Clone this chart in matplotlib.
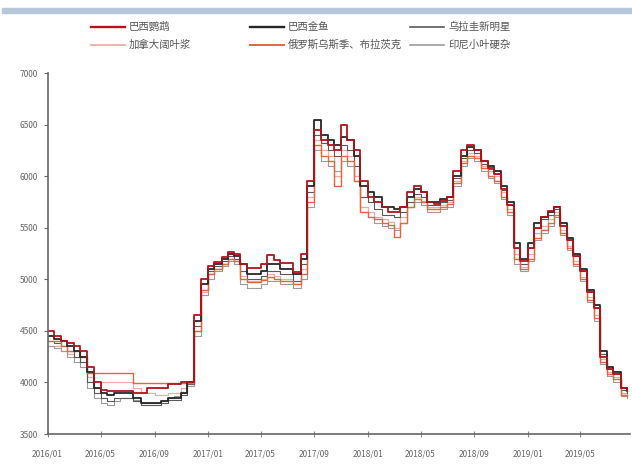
import numpy as np
import pandas as pd
import matplotlib
matplotlib.use("Agg")
import matplotlib.pyplot as plt
import matplotlib.dates as mdates
from matplotlib.lines import Line2D
from matplotlib.patches import Rectangle

plt.rcParams['font.family'] = ['Noto Sans CJK SC', 'DejaVu Sans']

# semi-monthly readings, 2016/01 .. 2019/08
dates = pd.date_range('2016-01-01', periods=88, freq='SMS')

names = ['巴西鹦鹉', '巴西金鱼', '乌拉圭新明星', '加拿大阔叶浆', '俄罗斯乌斯季、布拉茨克', '印尼小叶硬杂']

parrot = [4500, 4450, 4400, 4380, 4350, 4300, 4150, 4000, 3930, 3920, 3920, 3920, 3920, 3900, 3900, 3950,
          3950, 3950, 3980, 3980, 4000, 4000, 4650, 5000, 5130, 5170, 5220, 5260, 5250, 5150, 5110, 5110,
          5150, 5240, 5190, 5160, 5160, 5070, 5250, 5950, 6450, 6350, 6300, 6250, 6500, 6350, 6250, 5950,
          5800, 5750, 5700, 5650, 5650, 5700, 5850, 5900, 5850, 5750, 5730, 5760, 5800, 6050, 6250, 6300,
          6250, 6150, 6080, 6020, 5880, 5720, 5300, 5180, 5300, 5500, 5600, 5660, 5700, 5520, 5380, 5230,
          5080, 4880, 4720, 4250, 4130, 4080, 3950, 3920]

goldfish = [4450, 4420, 4400, 4350, 4300, 4250, 4100, 3950, 3900, 3880, 3900, 3900, 3900, 3850, 3800, 3800,
            3800, 3820, 3850, 3850, 3900, 4000, 4600, 4950, 5100, 5150, 5200, 5250, 5230, 5150, 5050, 5050,
            5080, 5150, 5150, 5100, 5100, 5050, 5200, 5900, 6540, 6400, 6350, 6300, 6380, 6350, 6200, 5900,
            5850, 5800, 5700, 5700, 5680, 5700, 5800, 5880, 5850, 5750, 5750, 5780, 5800, 6000, 6200, 6280,
            6250, 6150, 6100, 6050, 5900, 5750, 5350, 5200, 5350, 5550, 5600, 5650, 5700, 5550, 5400, 5250,
            5100, 4900, 4750, 4300, 4150, 4100, 3950, 3930]

star = [4400, 4380, 4350, 4300, 4250, 4200, 4000, 3900, 3850, 3820, 3850, 3850, 3850, 3820, 3780, 3780,
        3780, 3800, 3830, 3830, 3880, 3980, 4550, 4900, 5080, 5130, 5180, 5230, 5200, 5080, 5000, 5000,
        5030, 5080, 5080, 5050, 5050, 4980, 5150, 5850, 6400, 6320, 6250, 6200, 6300, 6250, 6100, 5800,
        5750, 5680, 5620, 5620, 5600, 5650, 5750, 5830, 5800, 5720, 5720, 5750, 5770, 5980, 6180, 6250,
        6220, 6120, 6070, 6020, 5870, 5720, 5300, 5150, 5300, 5500, 5580, 5620, 5680, 5530, 5380, 5230,
        5080, 4880, 4720, 4280, 4130, 4080, 3930, 3900]

canada = [4350, 4350, 4300, 4280, 4250, 4200, 4050, 3950, 4000, 4000, 4000, 4000, 4000, 3950, 3900, 3900,
          3880, 3880, 3900, 3900, 3950, 3980, 4500, 4880, 5050, 5100, 5150, 5200, 5180, 5030, 4980, 4980,
          5000, 5050, 5030, 5000, 5000, 4950, 5100, 5800, 6350, 6250, 6200, 6000, 6250, 6200, 6000, 5700,
          5650, 5600, 5580, 5560, 5500, 5600, 5750, 5800, 5760, 5700, 5700, 5720, 5750, 5950, 6150, 6220,
          6200, 6100, 6050, 6000, 5850, 5680, 5250, 5120, 5250, 5450, 5520, 5580, 5650, 5480, 5320, 5180,
          5020, 4830, 4650, 4230, 4100, 4050, 3900, 3880]

russia = [4400, 4400, 4350, 4300, 4300, 4250, 4090, 4090, 4090, 4090, 4090, 4090, 4090, 3990, 3990, 3990,
          3990, 3990, 3990, 3990, 3990, 3990, 4500, 4900, 5050, 5100, 5150, 5200, 5180, 5000, 4970, 4970,
          4990, 5020, 5000, 4980, 4980, 4950, 5050, 5750, 6300, 6200, 6150, 5900, 6200, 6150, 5950, 5650,
          5600, 5580, 5550, 5530, 5410, 5550, 5700, 5780, 5750, 5680, 5680, 5700, 5730, 5930, 6130, 6200,
          6180, 6080, 6000, 5950, 5800, 5650, 5200, 5100, 5200, 5400, 5480, 5550, 5620, 5450, 5300, 5150,
          5000, 4800, 4620, 4200, 4080, 4030, 3880, 3870]

indo = [4350, 4330, 4300, 4250, 4200, 4150, 3950, 3850, 3800, 3780, 3820, 3850, 3850, 3830, 3800, 3800,
        3800, 3820, 3850, 3870, 3900, 3970, 4450, 4850, 5000, 5080, 5130, 5180, 5150, 4950, 4920, 4920,
        4950, 4980, 4980, 4950, 4950, 4920, 5000, 5700, 6250, 6150, 6100, 6050, 6150, 6100, 5950, 5650,
        5600, 5550, 5520, 5500, 5480, 5550, 5700, 5750, 5720, 5650, 5650, 5680, 5700, 5900, 6100, 6180,
        6150, 6050, 5980, 5930, 5780, 5620, 5150, 5080, 5180, 5380, 5450, 5520, 5600, 5430, 5280, 5130,
        4980, 4780, 4600, 4180, 4060, 4000, 3870, 3850]

series = [parrot, goldfish, star, canada, russia, indo]
colors = ['#b3131b', '#262626', '#5a5a5a', '#f2aaa2', '#e8653c', '#9b9b9b']
widths = [1.3, 1.3, 0.8, 0.9, 1.0, 0.8]
order = [3, 5, 2, 4, 1, 0]  # draw thin ones first

fig = plt.figure(figsize=(6.32, 4.73), dpi=100)
ax = fig.add_axes([47.6 / 632, 1 - 434 / 473, (630 - 47.6) / 632, (434 - 73) / 473])

for i in order:
    ax.plot(dates, series[i], color=colors[i], lw=widths[i], drawstyle='steps-post')

ax.set_ylim(3500, 7000)
ax.set_yticks(np.arange(3500, 7001, 500))
ax.set_xlim(pd.Timestamp('2016-01-01'), pd.Timestamp('2019-08-22'))
ax.xaxis.set_major_locator(mdates.MonthLocator(bymonth=[1, 5, 9]))
ax.xaxis.set_major_formatter(mdates.DateFormatter('%Y/%m'))

for s in ['top', 'right']:
    ax.spines[s].set_visible(False)
for s in ['left', 'bottom']:
    ax.spines[s].set_color('#666666')
    ax.spines[s].set_linewidth(1.2)
ax.tick_params(axis='y', direction='out', length=3, pad=4, labelsize=6, colors='#666666', labelcolor='#666666')
ax.tick_params(axis='x', direction='inout', length=4, pad=9, labelsize=6, colors='#888888', labelcolor='#666666')

# blue band at top of the picture
fig.patches.append(Rectangle((2 / 632, 1 - 13 / 473), 630 / 632, 5 / 473,
                             transform=fig.transFigure, color='#b7c7da', zorder=0))

# legend, two rows of three
col_x = [91, 250, 410]
row_y = [27, 45]
pos = [(0, 0), (0, 1), (0, 2), (1, 0), (1, 1), (1, 2)]
for i, (r, c) in enumerate(pos):
    x0 = col_x[c]
    y = 1 - row_y[r] / 473
    fig.add_artist(Line2D([x0 / 632, (x0 + 34) / 632], [y, y], transform=fig.transFigure,
                          color=colors[i], lw=widths[i] + 0.4))
    fig.text((x0 + 38) / 632, y, names[i], fontsize=7.5, color='#555555', va='center', ha='left')

fig.savefig('out.png', dpi=100)
